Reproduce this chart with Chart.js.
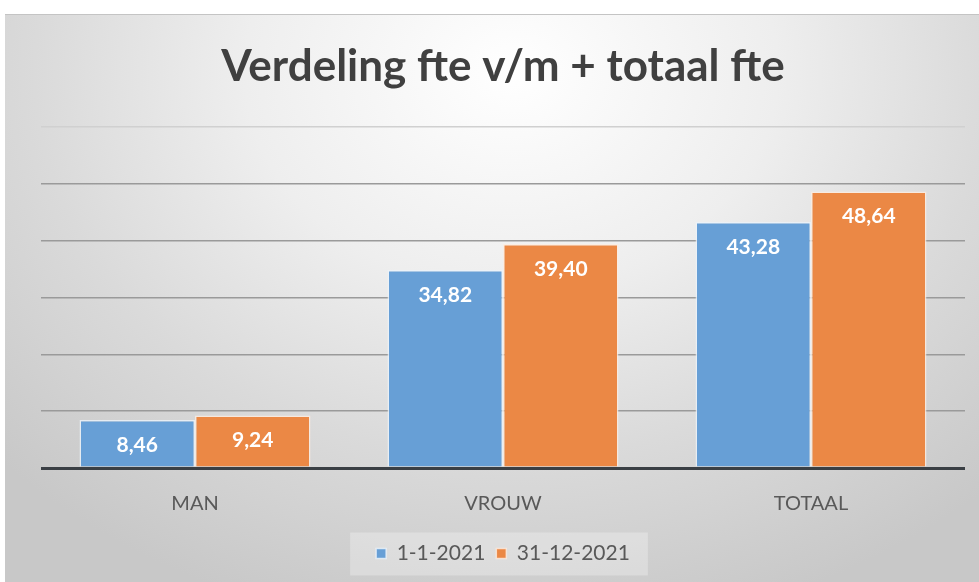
<!DOCTYPE html>
<html>
<head>
<meta charset="utf-8">
<script src="https://cdn.jsdelivr.net/npm/chart.js@4"></script>
<style>
  html, body { margin: 0; padding: 0; background: #fff; }
  #wrap { position: relative; width: 979px; height: 582px; overflow: hidden; }
  #panel {
    position: absolute; left: 5px; top: 14px; width: 974px; height: 568px;
    border-top: 1px solid #c4c4c4;
    background: radial-gradient(ellipse 72% 100% at 52% 10%, #ffffff 0%, #eeeeee 38%, #dadada 68%, #c8c8c8 100%);
  }
  canvas { position: absolute; left: 0; top: 0; }
</style>
</head>
<body>
<div id="wrap">
  <div id="panel"></div>
  <canvas id="fteChart" width="979" height="582"></canvas>
</div>
<script>
// data
const categories = ['MAN', 'VROUW', 'TOTAAL'];
const seriesNames = ['1-1-2021', '31-12-2021'];
const start2021 = [8.46, 34.82, 43.28];
const end2021 = [9.24, 39.40, 48.64];
const yTicks = [0, 10, 20, 30, 40, 50, 60];

const fmt = v => v.toFixed(2).replace('.', ',');

// white value labels inside the top of each bar
const valueLabels = {
  id: 'valueLabels',
  afterDatasetsDraw(chart) {
    const ctx = chart.ctx;
    ctx.save();
    ctx.font = 'bold 21px Lato';
    ctx.fillStyle = '#ffffff';
    ctx.textAlign = 'center';
    ctx.textBaseline = 'middle';
    chart.data.datasets.forEach((ds, i) => {
      chart.getDatasetMeta(i).data.forEach((bar, j) => {
        ctx.fillText(fmt(ds.data[j]), bar.x, bar.y + 25);
      });
    });
    ctx.restore();
  }
};

// light box behind legend
const legendBox = {
  id: 'legendBox',
  beforeDraw(chart) {
    const lg = chart.legend;
    if (!lg || !lg.legendHitBoxes.length) return;
    const boxes = lg.legendHitBoxes;
    const x0 = boxes[0].left - 26;
    const last = boxes[boxes.length - 1];
    const x1 = last.left + last.width + 18;
    const cy = boxes[0].top + boxes[0].height / 2;
    const ctx = chart.ctx;
    ctx.save();
    ctx.fillStyle = 'rgba(255,255,255,0.28)';
    ctx.fillRect(x0, cy - 21, x1 - x0, 43);
    ctx.restore();
  }
};

new Chart(document.getElementById('fteChart'), {
  type: 'bar',
  data: {
    labels: categories,
    datasets: [
      {
        label: seriesNames[0],
        data: start2021,
        backgroundColor: '#679fd6',
        borderColor: 'rgba(235,242,250,0.8)',
        borderWidth: 1.5
      },
      {
        label: seriesNames[1],
        data: end2021,
        backgroundColor: '#eb8845',
        borderColor: 'rgba(252,236,224,0.8)',
        borderWidth: 1.5
      }
    ]
  },
  options: {
    responsive: false,
    animation: false,
    devicePixelRatio: 1,
    layout: { padding: { left: 41, right: 14, top: 0, bottom: 8 } },
    datasets: { bar: { categoryPercentage: 0.75, barPercentage: 1 } },
    plugins: {
      title: {
        display: true,
        text: 'Verdeling fte v/m + totaal fte',
        color: '#404040',
        font: { family: 'Lato', size: 44, weight: 'bold' },
        padding: { top: 40, bottom: 34 }
      },
      legend: {
        position: 'bottom',
        labels: {
          boxWidth: 10,
          boxHeight: 10,
          padding: 11,
          color: '#595959',
          font: { family: 'Lato', size: 21 }
        }
      },
      tooltip: { enabled: false }
    },
    scales: {
      x: {
        grid: { display: false },
        border: { display: false },
        ticks: { color: '#595959', font: { family: 'Lato', size: 20, lineHeight: 0.6 }, padding: 22 }
      },
      y: {
        min: yTicks[0],
        max: yTicks[yTicks.length - 1],
        afterBuildTicks: axis => { axis.ticks = yTicks.map(v => ({ value: v })); },
        ticks: { display: false },
        border: { display: false },
        grid: {
          drawTicks: false,
          color: c => c.tick.value === 0 ? '#3a3f44' : (c.tick.value === 60 ? '#d0d0d0' : '#9a9a9a'),
          lineWidth: c => c.tick.value === 0 ? 3 : 1.5
        }
      }
    }
  },
  plugins: [legendBox, valueLabels]
});
</script>
</body>
</html>
